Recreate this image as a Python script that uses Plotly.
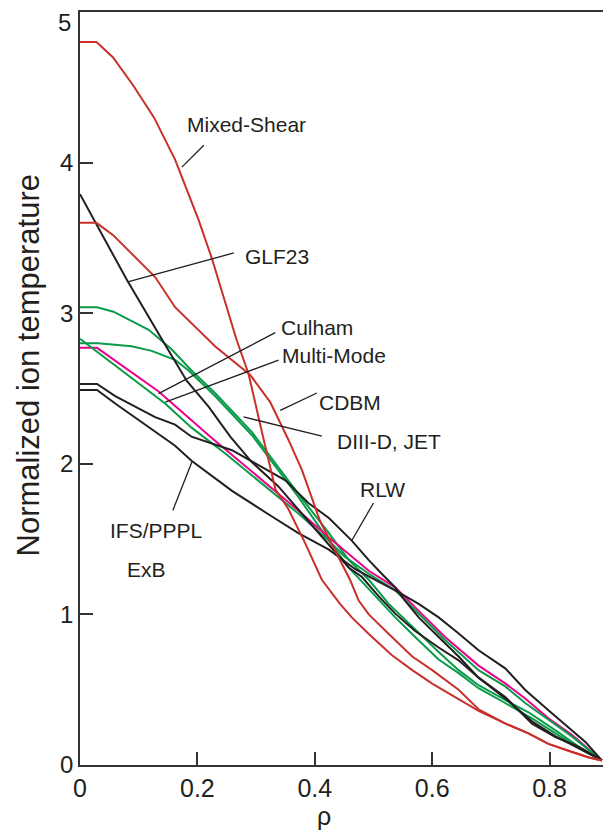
import plotly.graph_objects as go

# --- data (rho, normalized Ti) ---
mixed_shear_rho = [0, 0.028, 0.056, 0.091, 0.126, 0.162, 0.202, 0.225, 0.267, 0.287, 0.313, 0.333, 0.355, 0.384,
                   0.412, 0.443, 0.463, 0.492, 0.531, 0.566, 0.6, 0.645, 0.679, 0.725, 0.764, 0.798, 0.838, 0.867, 0.889]
mixed_shear_ti = [4.80, 4.80, 4.70, 4.51, 4.30, 4.02, 3.62, 3.36, 2.82, 2.60, 2.16, 1.83, 1.70, 1.47,
                  1.23, 1.07, 0.98, 0.87, 0.73, 0.63, 0.54, 0.44, 0.36, 0.275, 0.21, 0.14, 0.086, 0.05, 0.03]

cdbm_rho = [0, 0.028, 0.056, 0.128, 0.162, 0.23, 0.29, 0.324, 0.355, 0.378, 0.409, 0.44, 0.46, 0.475,
            0.492, 0.526, 0.566, 0.6, 0.645, 0.679, 0.725, 0.764, 0.798, 0.838, 0.867, 0.889]
cdbm_ti = [3.60, 3.60, 3.52, 3.24, 3.04, 2.78, 2.59, 2.41, 2.16, 1.96, 1.62, 1.38, 1.23, 1.09,
           1.00, 0.87, 0.72, 0.63, 0.50, 0.37, 0.275, 0.21, 0.14, 0.086, 0.05, 0.03]

glf23_rho = [0, 0.08, 0.145, 0.182, 0.219, 0.256, 0.293, 0.338, 0.38, 0.424, 0.441, 0.458, 0.48, 0.509,
             0.537, 0.571, 0.611, 0.645, 0.679, 0.725, 0.77, 0.81, 0.85, 0.889]
glf23_ti = [3.79, 3.22, 2.79, 2.55, 2.38, 2.18, 2.01, 1.85, 1.66, 1.46, 1.38, 1.31, 1.25, 1.12,
            1.005, 0.89, 0.78, 0.695, 0.58, 0.44, 0.29, 0.19, 0.11, 0.03]

rlw_rho = [0, 0.029, 0.06, 0.128, 0.162, 0.19, 0.259, 0.35, 0.389, 0.424, 0.463, 0.492, 0.514, 0.537,
           0.554, 0.577, 0.611, 0.645, 0.679, 0.725, 0.77, 0.81, 0.85, 0.889]
rlw_ti = [2.53, 2.53, 2.45, 2.31, 2.26, 2.18, 2.09, 1.89, 1.74, 1.64, 1.49, 1.36, 1.27, 1.18,
          1.09, 0.98, 0.85, 0.72, 0.58, 0.45, 0.275, 0.186, 0.12, 0.03]

exb_rho = [0, 0.029, 0.06, 0.128, 0.162, 0.19, 0.259, 0.327, 0.372, 0.424, 0.469, 0.503, 0.537, 0.577,
           0.611, 0.642, 0.679, 0.725, 0.759, 0.798, 0.838, 0.861, 0.889]
exb_ti = [2.49, 2.49, 2.40, 2.21, 2.12, 2.02, 1.82, 1.65, 1.54, 1.43, 1.30, 1.23, 1.16, 1.07,
          0.98, 0.883, 0.762, 0.64, 0.496, 0.363, 0.23, 0.153, 0.03]

green_a_rho = [0, 0.029, 0.057, 0.117, 0.156, 0.19, 0.23, 0.293, 0.372, 0.424, 0.458, 0.492, 0.526, 0.56,
               0.594, 0.611, 0.645, 0.679, 0.725, 0.764, 0.81, 0.85, 0.889]
green_a_ti = [3.04, 3.04, 3.01, 2.89, 2.76, 2.62, 2.47, 2.21, 1.80, 1.54, 1.36, 1.23, 1.07, 0.94,
              0.81, 0.75, 0.63, 0.53, 0.43, 0.35, 0.23, 0.12, 0.03]

green_b_rho = [0, 0.031, 0.088, 0.122, 0.162, 0.185, 0.23, 0.293, 0.372, 0.424, 0.458, 0.503, 0.537, 0.571,
               0.611, 0.645, 0.679, 0.725, 0.77, 0.81, 0.85, 0.889]
green_b_ti = [2.80, 2.80, 2.78, 2.75, 2.69, 2.62, 2.45, 2.19, 1.78, 1.49, 1.31, 1.12, 0.98, 0.85,
              0.70, 0.61, 0.51, 0.41, 0.31, 0.21, 0.11, 0.03]

multimode_rho = [0, 0.145, 0.19, 0.247, 0.372, 0.424, 0.452, 0.492, 0.537, 0.583, 0.622, 0.679, 0.725,
                 0.759, 0.798, 0.838, 0.889]
multimode_ti = [2.83, 2.40, 2.24, 2.07, 1.67, 1.49, 1.38, 1.27, 1.16, 0.98, 0.83, 0.63, 0.52,
                0.41, 0.30, 0.19, 0.03]

culham_rho = [0, 0.029, 0.134, 0.225, 0.372, 0.424, 0.492, 0.537, 0.583, 0.622, 0.679, 0.725, 0.759,
              0.798, 0.838, 0.889]
culham_ti = [2.77, 2.77, 2.48, 2.17, 1.69, 1.51, 1.29, 1.18, 1.00, 0.85, 0.66, 0.54, 0.44,
             0.31, 0.20, 0.03]

y_ticks = [0, 1, 2, 3, 4, 5]
x_ticks = [0, 0.2, 0.4, 0.6, 0.8]

RED = "#C9302C"
GREEN = "#0A9B4A"
MAGENTA = "#EC008C"
BLACK = "#231F20"
TXT = "#231F20"

series = [
    (green_a_rho, green_a_ti, GREEN),
    (green_b_rho, green_b_ti, GREEN),
    (culham_rho, culham_ti, MAGENTA),
    (multimode_rho, multimode_ti, GREEN),
    (rlw_rho, rlw_ti, BLACK),
    (exb_rho, exb_ti, BLACK),
    (glf23_rho, glf23_ti, BLACK),
    (cdbm_rho, cdbm_ti, RED),
    (mixed_shear_rho, mixed_shear_ti, RED),
]

fig = go.Figure()
for xs, ys, col in series:
    fig.add_trace(go.Scatter(x=xs, y=ys, mode="lines", line=dict(color=col, width=2),
                             showlegend=False, hoverinfo="skip"))

# labels: (text, x, y, leader start, leader end)
labels = [
    ("Mixed-Shear", 0.284, 4.254, (0.211, 4.115), (0.1735, 3.97)),
    ("GLF23", 0.335, 3.378, (0.262, 3.40), (0.083, 3.21)),
    ("Culham", 0.4045, 2.902, (0.3327, 2.871), (0.1338, 2.466)),
    ("Multi-Mode", 0.432, 2.720, (0.3383, 2.688), (0.1452, 2.410)),
    ("CDBM", 0.4605, 2.404, (0.4036, 2.470), (0.3412, 2.355)),
    ("DIII-D, JET", 0.526, 2.151, (0.412, 2.183), (0.2786, 2.311)),
    ("RLW", 0.5145, 1.829, (0.500, 1.740), (0.4633, 1.492)),
    ("IFS/PPPL", 0.130, 1.554, (0.1582, 1.691), (0.1906, 2.012)),
]
for txt, x, y, p0, p1 in labels:
    fig.add_annotation(x=x, y=y, text=txt, showarrow=False, xanchor="center", yanchor="middle",
                       font=dict(size=21, color=TXT))
    fig.add_shape(type="line", x0=p0[0], y0=p0[1], x1=p1[0], y1=p1[1],
                  line=dict(color=BLACK, width=1.3))
fig.add_annotation(x=0.1135, y=1.299, text="ExB", showarrow=False, xanchor="center", yanchor="middle",
                   font=dict(size=21, color=TXT))

# top "5" label sits a little below the frame in the original
fig.add_annotation(xref="paper", yref="paper", x=-7 / 523, y=(765 - 23) / 753, text=str(y_ticks[-1]),
                   showarrow=False, xanchor="right", yanchor="middle", font=dict(size=24, color=TXT))

# axis titles as annotations so they can sit where the original has them
fig.add_annotation(xref="paper", yref="paper", x=-52 / 523, y=(765 - 365.5) / 753,
                   text="Normalized ion temperature", textangle=-90, showarrow=False,
                   xanchor="center", yanchor="middle", font=dict(size=31, color=TXT))
fig.add_annotation(xref="paper", yref="paper", x=(324 - 80) / 523, y=-(816 - 765) / 753,
                   text="ρ", showarrow=False, xanchor="center", yanchor="middle",
                   font=dict(size=25, color=TXT))

fig.update_layout(
    width=603, height=833,
    margin=dict(l=80, r=0, t=12, b=68),
    plot_bgcolor="white", paper_bgcolor="white",
    font=dict(family="Arial, Liberation Sans, sans-serif", color=TXT),
)
fig.update_xaxes(range=[0, 0.891], tickvals=x_ticks, ticktext=["0", "0.2", "0.4", "0.6", "0.8"],
                 ticks="inside", ticklen=13, tickwidth=1.5, tickcolor="#333333",
                 showline=True, linecolor="#333333", linewidth=1.5, mirror=True, automargin=False,
                 showgrid=False, zeroline=False, tickfont=dict(size=25, color=TXT))
fig.update_yaxes(range=[0, 5], tickvals=y_ticks, ticktext=[str(v) for v in y_ticks[:-1]] + [""],
                 ticks="inside", ticklen=13, tickwidth=1.5, tickcolor="#333333",
                 showline=True, linecolor="#333333", linewidth=1.5, mirror=False, automargin=False,
                 ticklabeloverflow="allow",
                 showgrid=False, zeroline=False, tickfont=dict(size=24, color=TXT))

# page body has an 8px default margin; drop it so the figure sits at the window origin
fig.write_html("out.html", config={"displayModeBar": False},
               post_script="document.body.style.margin='0';")
